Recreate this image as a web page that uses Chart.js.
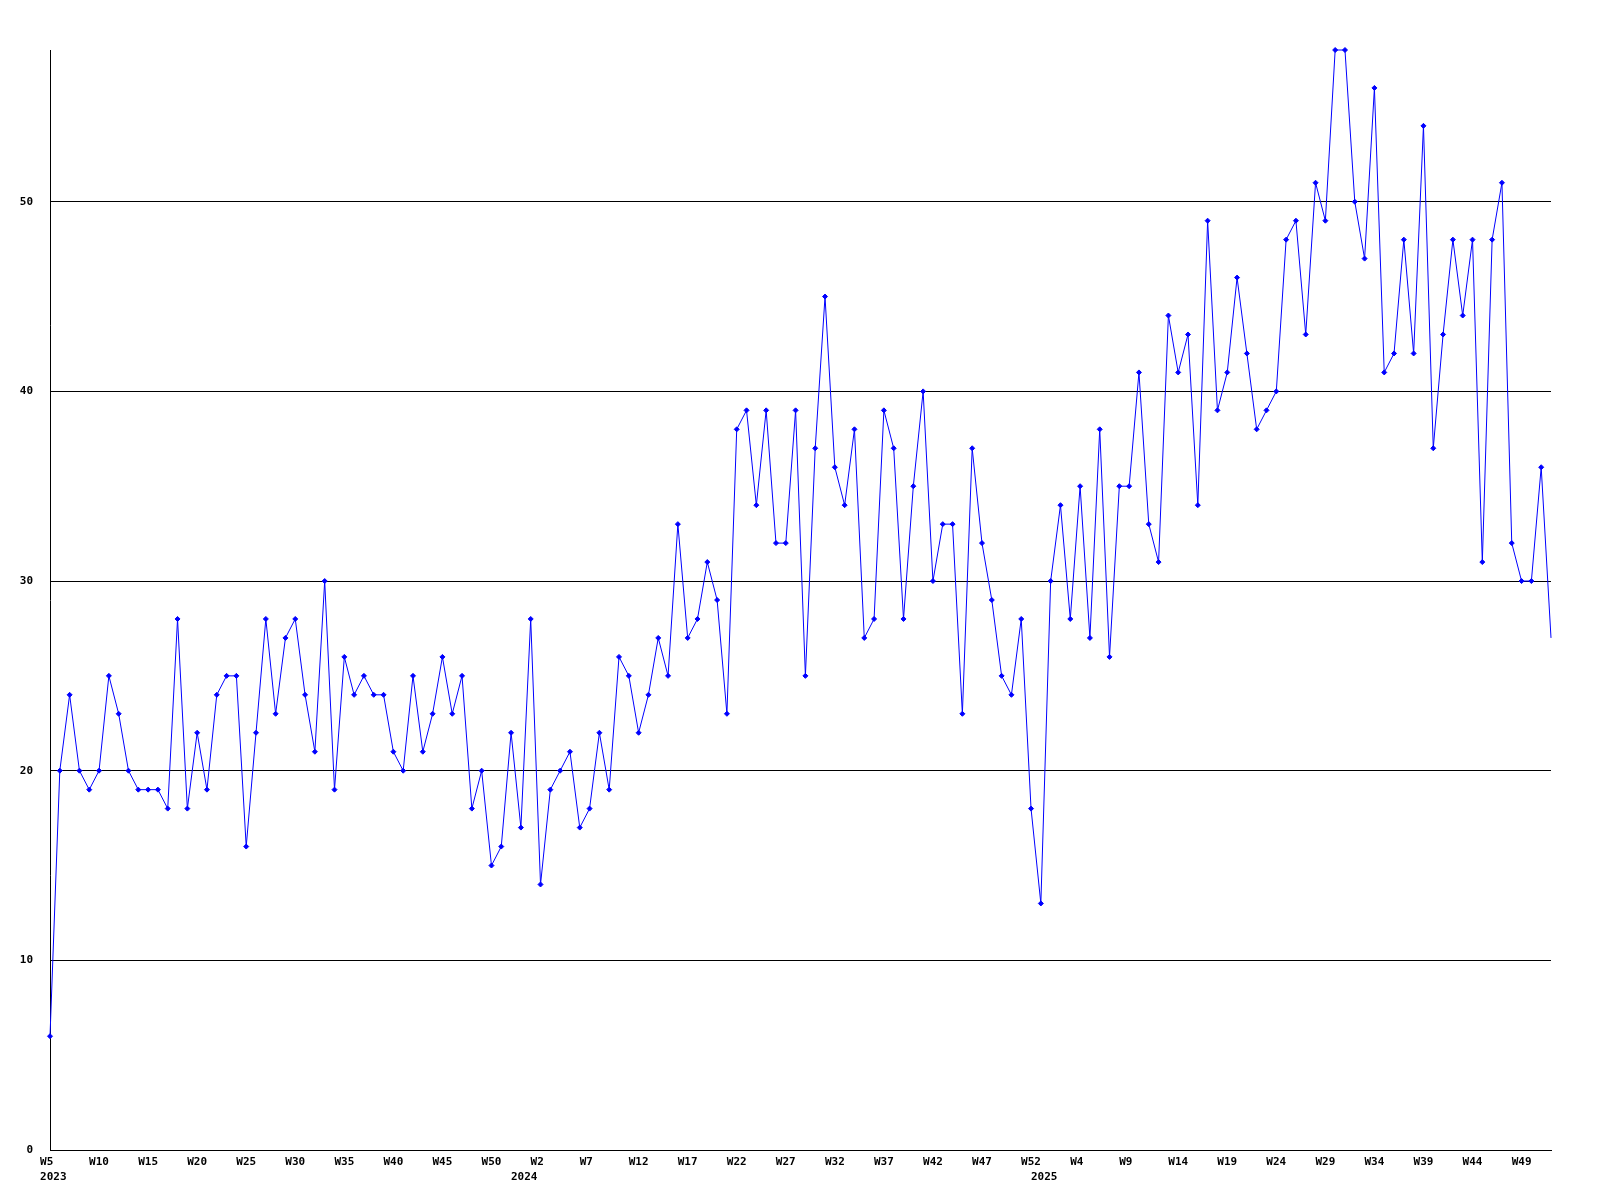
<!DOCTYPE html>
<html>
<head>
<meta charset="utf-8">
<title>Weekly count</title>
<script src="https://cdn.jsdelivr.net/npm/chart.js@4"></script>
<style>
  html, body { margin: 0; padding: 0; background: #ffffff; }
  #wrap { width: 1600px; height: 1200px; }
</style>
</head>
<body>
<div id="wrap"><canvas id="weeklyChart" width="1600" height="1200"></canvas></div>
<script>
// Weeks shown on the axis: 2023 starts at W5, later years run W0..W52
const years = [2023, 2024, 2025];
const firstWeek = [5, 0, 0];
const lastWeek = [52, 52, 52];

// Weekly values
const counts = [
  6, 20, 24, 20, 19, 20, 25, 23, 20, 19,
  19, 19, 18, 28, 18, 22, 19, 24, 25, 25,
  16, 22, 28, 23, 27, 28, 24, 21, 30, 19,
  26, 24, 25, 24, 24, 21, 20, 25, 21, 23,
  26, 23, 25, 18, 20, 15, 16, 22, 17, 28,
  14, 19, 20, 21, 17, 18, 22, 19, 26, 25,
  22, 24, 27, 25, 33, 27, 28, 31, 29, 23,
  38, 39, 34, 39, 32, 32, 39, 25, 37, 45,
  36, 34, 38, 27, 28, 39, 37, 28, 35, 40,
  30, 33, 33, 23, 37, 32, 29, 25, 24, 28,
  18, 13, 30, 34, 28, 35, 27, 38, 26, 35,
  35, 41, 33, 31, 44, 41, 43, 34, 49, 39,
  41, 46, 42, 38, 39, 40, 48, 49, 43, 51,
  49, 58, 58, 50, 47, 56, 41, 42, 48, 42,
  54, 37, 43, 48, 44, 48, 31, 48, 51, 32,
  30, 30, 36, 27
];

// Y axis tick labels
const yTicks = [0, 10, 20, 30, 40, 50];
const yMax = 58;
const labelEvery = 5;

// Build week categories
const weekNums = [];
const weekYears = [];
years.forEach((y, k) => {
  for (let w = firstWeek[k]; w <= lastWeek[k]; w++) {
    weekNums.push(w);
    weekYears.push(y);
  }
});
const categories = weekNums.map((w, i) => weekYears[i] + "-W" + w);

const axisFont = { family: "'DejaVu Sans Mono', monospace", size: 11, weight: "bold", lineHeight: 1.4 };

// Tick text: week every 5th point, year under the first week of each year
function xTickLabel(value, index) {
  let top = "";
  let bottom = "";
  if (index % labelEvery === 0) {
    top = "W" + weekNums[index];
    if (top.length < 3) top += " ";
  }
  if (index === 0 || weekYears[index] !== weekYears[index - 1]) {
    bottom = " " + weekYears[index];
  }
  if (!top && !bottom) return null;
  return bottom ? [top, bottom] : top;
}

const ctx = document.getElementById("weeklyChart").getContext("2d");
const weeklyChart = new Chart(ctx, {
  type: "line",
  data: {
    labels: categories,
    datasets: [
      {
        data: counts,
        borderColor: "#0000ff",
        backgroundColor: "#0000ff",
        borderWidth: 1,
        tension: 0,
        fill: false,
        clip: false,
        pointStyle: "rectRot",
        pointRadius: (c) => (c.dataIndex === counts.length - 1 ? 0 : 2.5),
        pointBorderWidth: 1,
        pointBorderColor: "#0000ff",
        pointBackgroundColor: "#0000ff",
      },
    ],
  },
  options: {
    responsive: false,
    animation: false,
    devicePixelRatio: 1,
    layout: { padding: { top: 50, right: 49, left: 0, bottom: 0 } },
    plugins: {
      legend: { display: false },
      tooltip: { enabled: false },
    },
    scales: {
      x: {
        type: "category",
        offset: false,
        grid: { display: false, drawTicks: false },
        border: { display: true, color: "#000000", width: 1 },
        ticks: {
          autoSkip: false,
          maxRotation: 0,
          minRotation: 0,
          padding: 4,
          color: "#000000",
          font: axisFont,
          callback: xTickLabel,
        },
        afterFit: (scale) => { scale.height = 50; },
      },
      y: {
        min: 0,
        max: yMax,
        ticks: {
          stepSize: 10,
          padding: 17,
          color: "#000000",
          font: axisFont,
        },
        afterBuildTicks: (scale) => {
          scale.ticks = yTicks.map((v) => ({ value: v }));
        },
        grid: { color: "#000000", lineWidth: 1, drawTicks: false },
        border: { display: true, color: "#000000", width: 1 },
        afterFit: (scale) => { scale.width = 50; },
      },
    },
  },
});
</script>
</body>
</html>
